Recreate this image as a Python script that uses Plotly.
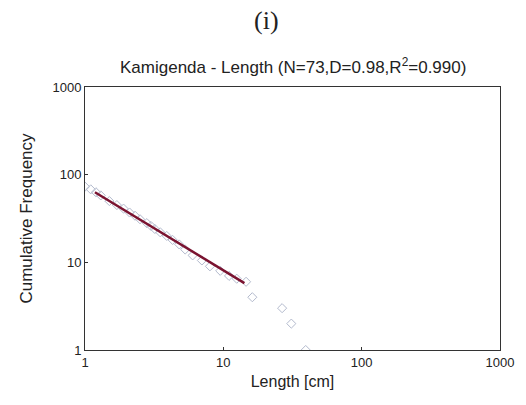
import plotly.graph_objects as go

# Observed points (length in cm, cumulative frequency)
lengths = [1.0, 1.1, 1.2, 1.3, 1.5, 1.7, 1.9, 2.1, 2.3, 2.5, 2.8, 3.0, 3.2, 3.5,
           3.9, 4.3, 4.8, 5.3, 6.0, 7.0, 8.0, 9.5, 11.0, 12.5, 14.6, 16.2, 26.6, 31.0, 39.4]
cum_freq = [73, 68, 63, 58, 50, 45, 41, 37, 34, 31, 28, 26, 24, 22,
            20, 18, 16, 14, 12, 10.5, 9, 8, 7, 6.5, 6, 4, 3, 2, 1]

# Fitted power-law line endpoints
fit_x = [1.18, 14.2]
fit_y = [63, 5.8]

tick_vals = [1, 10, 100, 1000]
tick_text = ["1", "10", "100", "1000"]

FONT = "Liberation Sans, Arial"

fig = go.Figure()
fig.add_trace(go.Scatter(
    x=lengths, y=cum_freq, mode="markers",
    marker=dict(symbol="diamond-open", size=7, color="#b3bacd", line=dict(width=1)),
    showlegend=False, cliponaxis=True))
fig.add_trace(go.Scatter(
    x=fit_x, y=fit_y, mode="lines",
    line=dict(color="#7a1330", width=2.5), showlegend=False))

axis_common = dict(type="log", showgrid=False, zeroline=False,
                   showline=True, linecolor="#333333", linewidth=1, mirror=True,
                   ticks="inside", ticklen=3, tickcolor="#333333",
                   tickvals=tick_vals, ticktext=tick_text,
                   tickfont=dict(family=FONT, size=13, color="#222222"))

fig.update_xaxes(range=[0, 3], title=dict(text="Length [cm]", standoff=7,
                 font=dict(family=FONT, size=16, color="#222222")),
                 **axis_common)
fig.update_yaxes(range=[0, 3], title=dict(text="Cumulative Frequency", standoff=15,
                 font=dict(family=FONT, size=17, color="#222222")),
                 **axis_common)

fig.update_layout(
    width=526, height=405,
    margin=dict(l=85, r=23, t=87, b=55),
    paper_bgcolor="white", plot_bgcolor="white",
    annotations=[
        dict(text="(i)", xref="paper", yref="paper", x=0.438, y=1.0, yshift=67,
             showarrow=False, xanchor="center", yanchor="middle",
             font=dict(family="Liberation Serif, DejaVu Serif", size=26, color="#222222")),
        dict(text="Kamigenda - Length (N=73,D=0.98,R<sup>2</sup>=0.990)",
             xref="paper", yref="paper", x=0.5, y=1.0, yshift=21,
             showarrow=False, xanchor="center", yanchor="middle",
             font=dict(family=FONT, size=17, color="#222222")),
    ],
)

fig.write_html("out.html")
